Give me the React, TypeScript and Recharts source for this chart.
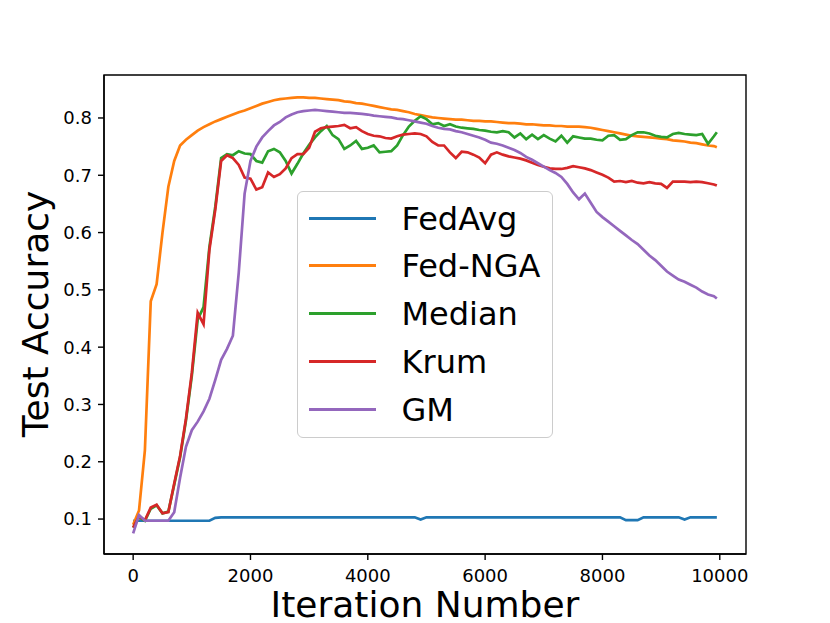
import { LineChart, Line, XAxis, YAxis, ReferenceArea } from 'recharts';

const FONT = '"DejaVu Sans", sans-serif';

const iterations = [
  0, 100, 200, 300, 400, 500, 600, 700, 800, 900,
  1000, 1100, 1200, 1300, 1400, 1500, 1600, 1700, 1800, 1900,
  2000, 2100, 2200, 2300, 2400, 2500, 2600, 2700, 2800, 2900,
  3000, 3100, 3200, 3300, 3400, 3500, 3600, 3700, 3800, 3900,
  4000, 4100, 4200, 4300, 4400, 4500, 4600, 4700, 4800, 4900,
  5000, 5100, 5200, 5300, 5400, 5500, 5600, 5700, 5800, 5900,
  6000, 6100, 6200, 6300, 6400, 6500, 6600, 6700, 6800, 6900,
  7000, 7100, 7200, 7300, 7400, 7500, 7600, 7700, 7800, 7900,
  8000, 8100, 8200, 8300, 8400, 8500, 8600, 8700, 8800, 8900,
  9000, 9100, 9200, 9300, 9400, 9500, 9600, 9700, 9800, 9900,
  9950,
];

const fedAvg = [
  0.097, 0.097, 0.097, 0.097, 0.097, 0.097, 0.097, 0.097, 0.097, 0.097,
  0.097, 0.097, 0.097, 0.097, 0.102, 0.103, 0.103, 0.103, 0.103, 0.103,
  0.103, 0.103, 0.103, 0.103, 0.103, 0.103, 0.103, 0.103, 0.103, 0.103,
  0.103, 0.103, 0.103, 0.103, 0.103, 0.103, 0.103, 0.103, 0.103, 0.103,
  0.103, 0.103, 0.103, 0.103, 0.103, 0.103, 0.103, 0.103, 0.103, 0.099,
  0.103, 0.103, 0.103, 0.103, 0.103, 0.103, 0.103, 0.103, 0.103, 0.103,
  0.103, 0.103, 0.103, 0.103, 0.103, 0.103, 0.103, 0.103, 0.103, 0.103,
  0.103, 0.103, 0.103, 0.103, 0.103, 0.103, 0.103, 0.103, 0.103, 0.103,
  0.103, 0.103, 0.103, 0.103, 0.098, 0.098, 0.098, 0.103, 0.103, 0.103,
  0.103, 0.103, 0.103, 0.103, 0.099, 0.103, 0.103, 0.103, 0.103, 0.103,
  0.103,
];

const fedNga = [
  0.090, 0.115, 0.220, 0.480, 0.510, 0.600, 0.680, 0.725, 0.752, 0.762,
  0.770, 0.778, 0.784, 0.789, 0.794, 0.798, 0.802, 0.806, 0.810, 0.813,
  0.817, 0.821, 0.825, 0.828, 0.831, 0.833, 0.834, 0.835, 0.836, 0.836,
  0.835, 0.835, 0.834, 0.833, 0.832, 0.831, 0.829, 0.828, 0.826, 0.825,
  0.823, 0.821, 0.819, 0.817, 0.815, 0.814, 0.812, 0.810, 0.807, 0.805,
  0.803, 0.801, 0.800, 0.799, 0.798, 0.797, 0.797, 0.796, 0.795, 0.795,
  0.794, 0.794, 0.793, 0.792, 0.791, 0.791, 0.790, 0.789, 0.789, 0.788,
  0.787, 0.787, 0.786, 0.786, 0.785, 0.785, 0.785, 0.784, 0.783, 0.781,
  0.779, 0.777, 0.775, 0.773, 0.771, 0.769, 0.768, 0.767, 0.766, 0.765,
  0.764, 0.763, 0.761, 0.760, 0.759, 0.757, 0.756, 0.754, 0.752, 0.751,
  0.749,
];

const median = [
  0.085, 0.103, 0.097, 0.118, 0.124, 0.110, 0.113, 0.160, 0.208, 0.272,
  0.350, 0.448, 0.470, 0.575, 0.645, 0.730, 0.737, 0.735, 0.742, 0.738,
  0.737, 0.725, 0.722, 0.742, 0.746, 0.740, 0.725, 0.703, 0.720, 0.738,
  0.753, 0.766, 0.777, 0.786, 0.770, 0.763, 0.746, 0.752, 0.760, 0.746,
  0.748, 0.752, 0.740, 0.741, 0.742, 0.752, 0.770, 0.785, 0.795, 0.803,
  0.798, 0.789, 0.791, 0.786, 0.789, 0.785, 0.783, 0.782, 0.781, 0.779,
  0.778, 0.776, 0.775, 0.777, 0.775, 0.766, 0.773, 0.763, 0.771, 0.763,
  0.770, 0.764, 0.759, 0.769, 0.757, 0.768, 0.766, 0.764, 0.764, 0.762,
  0.761, 0.769, 0.770, 0.762, 0.763, 0.770, 0.775, 0.775, 0.773, 0.769,
  0.767, 0.766, 0.772, 0.774, 0.772, 0.771, 0.770, 0.772, 0.755, 0.768,
  0.775,
];

const krum = [
  0.085, 0.105, 0.098, 0.120, 0.125, 0.110, 0.112, 0.162, 0.210, 0.275,
  0.355, 0.460, 0.440, 0.570, 0.640, 0.725, 0.735, 0.730, 0.718, 0.696,
  0.694, 0.675, 0.679, 0.705, 0.697, 0.702, 0.712, 0.730, 0.737, 0.737,
  0.748, 0.776, 0.782, 0.784, 0.785, 0.786, 0.788, 0.782, 0.784, 0.777,
  0.772, 0.769, 0.768, 0.765, 0.764, 0.768, 0.771, 0.772, 0.773, 0.772,
  0.768, 0.758, 0.752, 0.752, 0.740, 0.730, 0.741, 0.740, 0.736, 0.731,
  0.721, 0.736, 0.740, 0.736, 0.733, 0.731, 0.729, 0.726, 0.722, 0.718,
  0.715, 0.712, 0.711, 0.711, 0.713, 0.716, 0.714, 0.712, 0.709, 0.705,
  0.701, 0.696, 0.689, 0.690, 0.688, 0.690, 0.687, 0.686, 0.688, 0.686,
  0.685, 0.678, 0.689, 0.689, 0.689, 0.688, 0.689, 0.688, 0.686, 0.684,
  0.682,
];

const gm = [
  0.075, 0.107, 0.097, 0.097, 0.097, 0.097, 0.097, 0.112, 0.172, 0.226,
  0.255, 0.270, 0.288, 0.310, 0.343, 0.378, 0.397, 0.420, 0.530, 0.668,
  0.725, 0.750, 0.766, 0.777, 0.787, 0.793, 0.801, 0.806, 0.810, 0.812,
  0.813, 0.814, 0.813, 0.812, 0.811, 0.810, 0.809, 0.809, 0.808, 0.807,
  0.806, 0.804, 0.803, 0.802, 0.801, 0.799, 0.798, 0.796, 0.794, 0.792,
  0.790, 0.786, 0.783, 0.781, 0.780, 0.777, 0.775, 0.772, 0.769, 0.766,
  0.762, 0.757, 0.755, 0.752, 0.748, 0.744, 0.739, 0.732, 0.727, 0.721,
  0.715, 0.709, 0.704, 0.697, 0.685, 0.670, 0.658, 0.668, 0.652, 0.636,
  0.627, 0.619, 0.611, 0.603, 0.595, 0.587, 0.580, 0.570, 0.560, 0.552,
  0.542, 0.532, 0.525, 0.518, 0.514, 0.509, 0.504, 0.497, 0.492, 0.489,
  0.485,
];

const xTicks = [0, 2000, 4000, 6000, 8000, 10000];
const yTicks = [0.1, 0.2, 0.3, 0.4, 0.5, 0.6, 0.7, 0.8];
const xDomain = [-497, 10447];
const yDomain = [0.039, 0.875];

const series = [
  { key: 'fedAvg', name: 'FedAvg', color: '#1f77b4' },
  { key: 'fedNga', name: 'Fed-NGA', color: '#ff7f0e' },
  { key: 'median', name: 'Median', color: '#2ca02c' },
  { key: 'krum', name: 'Krum', color: '#d62728' },
  { key: 'gm', name: 'GM', color: '#9467bd' },
];

const data = iterations.map((it, i) => ({
  it,
  fedAvg: fedAvg[i],
  fedNga: fedNga[i],
  median: median[i],
  krum: krum[i],
  gm: gm[i],
}));

const tickStyle = { fill: '#000', fontSize: 18, fontFamily: FONT };

function LegendBox() {
  const rows = [26, 73, 121, 169, 217];
  return (
    <div
      style={{
        position: 'absolute',
        left: 297,
        top: 191,
        width: 256,
        height: 247,
        boxSizing: 'border-box',
        border: '1.4px solid #cccccc',
        borderRadius: 6,
        background: 'rgba(255,255,255,0.8)',
        fontFamily: FONT,
      }}
    >
      {series.map((s, i) => {
        const cy = rows[i];
        return (
          <div key={s.key}>
            <div
              style={{
                position: 'absolute',
                left: 10.5,
                top: cy - 1.5,
                width: 67.5,
                height: 3,
                background: s.color,
              }}
            />
            <div
              style={{
                position: 'absolute',
                left: 103.5,
                top: cy - 15.5,
                fontSize: 32,
                lineHeight: '32px',
                color: '#000',
                whiteSpace: 'nowrap',
              }}
            >
              {s.name}
            </div>
          </div>
        );
      })}
    </div>
  );
}

export default function App() {
  return (
    <div style={{ position: 'absolute', left: 0, top: 0, width: 830, height: 623, background: '#fff' }}>
      <LineChart width={830} height={623} data={data} margin={{ top: 75, right: 84, bottom: 0, left: 0 }}>
        <XAxis
          dataKey="it"
          type="number"
          domain={xDomain}
          ticks={xTicks}
          allowDataOverflow
          height={69}
          tick={tickStyle}
          tickSize={6}
          tickMargin={9}
          axisLine={{ stroke: '#000', strokeWidth: 1.4 }}
          tickLine={{ stroke: '#000', strokeWidth: 1.4 }}
          label={{
            content: () => (
              <text x={425} y={617} textAnchor="middle" fontSize={36} fontFamily={FONT} fill="#000">
                Iteration Number
              </text>
            ),
          }}
        />
        <YAxis
          type="number"
          domain={yDomain}
          ticks={yTicks}
          allowDataOverflow
          width={104}
          tick={tickStyle}
          tickSize={6}
          tickMargin={6}
          tickFormatter={(v: number) => v.toFixed(1)}
          axisLine={{ stroke: '#000', strokeWidth: 1.4 }}
          tickLine={{ stroke: '#000', strokeWidth: 1.4 }}
          label={{
            content: () => (
              <text
                x={48}
                y={314}
                textAnchor="middle"
                fontSize={36}
                fontFamily={FONT}
                fill="#000"
                transform="rotate(-90, 48, 314)"
              >
                Test Accuracy
              </text>
            ),
          }}
        />
        <ReferenceArea
          x1={xDomain[0]}
          x2={xDomain[1]}
          y1={yDomain[0]}
          y2={yDomain[1]}
          fill="none"
          fillOpacity={0}
          stroke="#000"
          strokeWidth={1.4}
          strokeOpacity={1}
          ifOverflow="visible"
        />
        {series.map((s) => (
          <Line
            key={s.key}
            dataKey={s.key}
            name={s.name}
            stroke={s.color}
            strokeWidth={2.7}
            dot={false}
            type="linear"
            isAnimationActive={false}
          />
        ))}
      </LineChart>
      <LegendBox />
    </div>
  );
}
